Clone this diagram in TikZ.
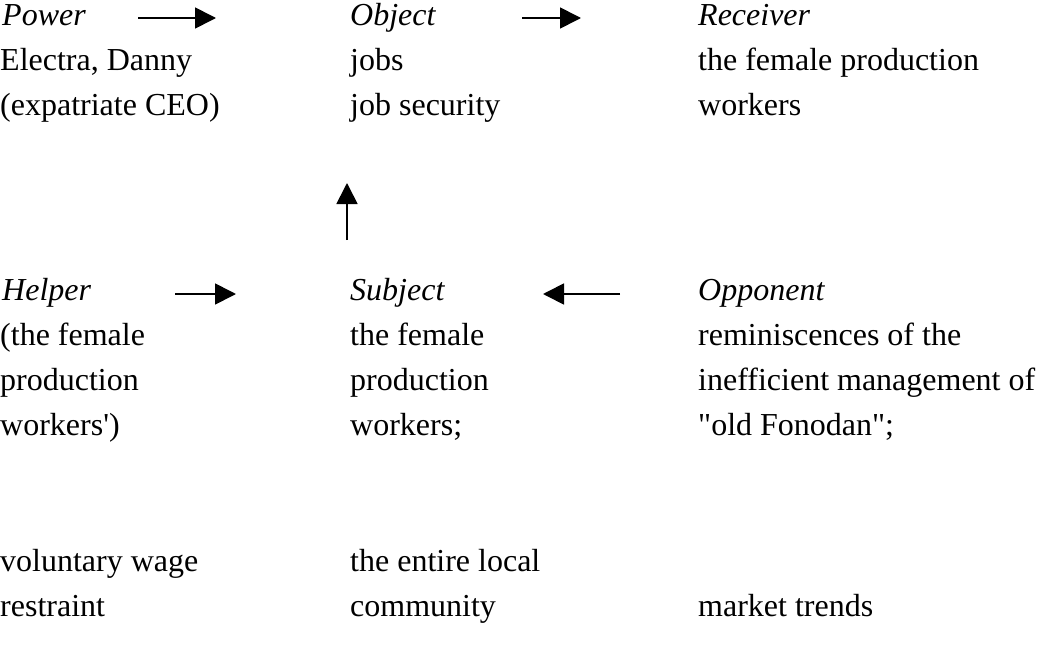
\documentclass[tikz,border=0pt]{standalone}
\usepackage{fontspec}
\setmainfont{Liberation Serif}[Ligatures=TeXOff]
\usetikzlibrary{arrows.meta}
\begin{document}
\begin{tikzpicture}[x=1pt,y=-1pt,
  txt/.style={anchor=base west,inner sep=0pt,font=\fontsize{32}{45}\selectfont},
  hd/.style={anchor=base west,inner sep=0pt,font=\fontsize{32}{45}\selectfont\itshape},
  arr/.style={line width=1.7pt,-{Triangle[length=21pt,width=21pt]}}]
\useasboundingbox (0,0) rectangle (1039,645);
% top row
\node[hd]  (power)    at (2,25)   {Power};
\node[txt] (power1)   at (0,70)   {Electra, Danny};
\node[txt] (power2)   at (0,115)  {(expatriate CEO)};
\node[hd]  (object)   at (350,25) {Object};
\node[txt] (object1)  at (350,70) {jobs};
\node[txt] (object2)  at (350,115){job security};
\node[hd]  (receiver) at (698,25) {Receiver};
\node[txt] (receiver1) at (698,70) {the female production};
\node[txt] (receiver2) at (698,115){workers};
% bottom row
\node[hd]  (helper)  at (2,300)  {Helper};
\node[txt] (helper1) at (0,345)  {(the female};
\node[txt] (helper2) at (0,390)  {production};
\node[txt] (helper3) at (0,435)  {workers')};
\node[txt] (helper4) at (0,571)  {voluntary wage};
\node[txt] (helper5) at (0,616)  {restraint};
\node[hd]  (subject)  at (350,300) {Subject};
\node[txt] (subject1) at (350,345) {the female};
\node[txt] (subject2) at (350,390) {production};
\node[txt] (subject3) at (350,435) {workers;};
\node[txt] (subject4) at (350,571) {the entire local};
\node[txt] (subject5) at (350,616) {community};
\node[hd]  (opponent)  at (698,300) {Opponent};
\node[txt] (opponent1) at (698,345) {reminiscences of the};
\node[txt] (opponent2) at (698,390) {inefficient management of};
\node[txt] (opponent3) at (698,435) {"old Fonodan";};
\node[txt] (opponent4) at (698,616) {market trends};
% arrows
\coordinate (a1s) at (138,18);  \coordinate (a1e) at (216,18);
\coordinate (a2s) at (522,18);  \coordinate (a2e) at (581,18);
\coordinate (a3s) at (347,240); \coordinate (a3e) at (347,183);
\coordinate (a4s) at (175,294); \coordinate (a4e) at (236,294);
\coordinate (a5s) at (620,294); \coordinate (a5e) at (543,294);
\draw[arr] (a1s) -- (a1e);
\draw[arr] (a2s) -- (a2e);
\draw[arr] (a3s) -- (a3e);
\draw[arr] (a4s) -- (a4e);
\draw[arr] (a5s) -- (a5e);
\end{tikzpicture}
\end{document}
